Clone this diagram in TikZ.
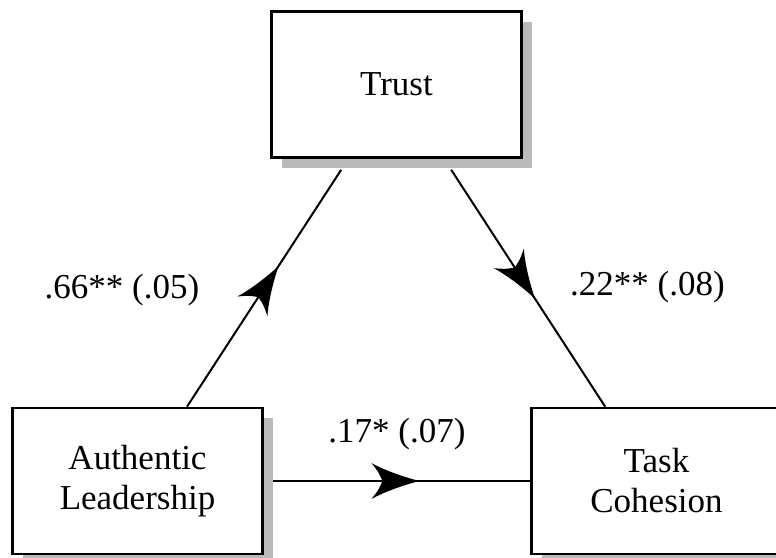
\documentclass[tikz,border=0pt]{standalone}
\usepackage{fontspec}
\setmainfont{Liberation Serif}
\usetikzlibrary{shadows,decorations.markings,calc}
\tikzset{
 box/.style={draw=black, line width=2.6pt, fill=white, minimum width=250pt, minimum height=146pt,
   inner sep=0pt, align=center, font=\fontsize{35}{40}\selectfont,
   general shadow={fill=black!27, shadow xshift=10pt, shadow yshift=-10pt}},
 lbl/.style={anchor=base, inner sep=0pt, font=\fontsize{35}{40}\selectfont},
 link/.style={line width=2pt, draw=black},
 midhead/.style={postaction={decorate}, decoration={markings, mark=at position #1 with {
   \fill[black] (18pt,0pt) .. controls (6pt,3pt) and (-16pt,10pt) .. (-30pt,18pt)
     .. controls (-23pt,9pt) .. (-19pt,0pt)
     .. controls (-23pt,-9pt) .. (-30pt,-18pt)
     .. controls (-16pt,-10pt) and (6pt,-3pt) .. (18pt,0pt);}}}
}
\begin{document}
\begin{tikzpicture}[x=1pt,y=-1pt]
\useasboundingbox (0,0) rectangle (776,557);
\clip (0,0) rectangle (776,557);
\node[box] (trust) at (396.5,84.5) {Trust};
\node[box] (al) at (137.5,481) {Authentic\\Leadership};
\node[box] (tc) at (656.5,481) {Task\\Cohesion};
\coordinate (a1) at ($(al.north)+(49.5,0)$);
\coordinate (t1) at ($(trust.south west)+(71,11)$);
\coordinate (t2) at ($(trust.south west)+(181,11)$);
\coordinate (c1) at ($(tc.north west)+(75,0)$);
\coordinate (a2) at ($(al.east)+(9,0)$);
\draw[link, midhead=0.53] (a1) -- (t1);
\draw[link, midhead=0.48] (t2) -- (c1);
\draw[link, midhead=0.5] (a2) -- (tc.west);
\node[lbl] (l1) at (122,298) {.66** (.05)};
\node[lbl] (l2) at (647.5,295) {.22** (.08)};
\node[lbl] (l3) at (397,442) {.17* (.07)};
\end{tikzpicture}
\end{document}
